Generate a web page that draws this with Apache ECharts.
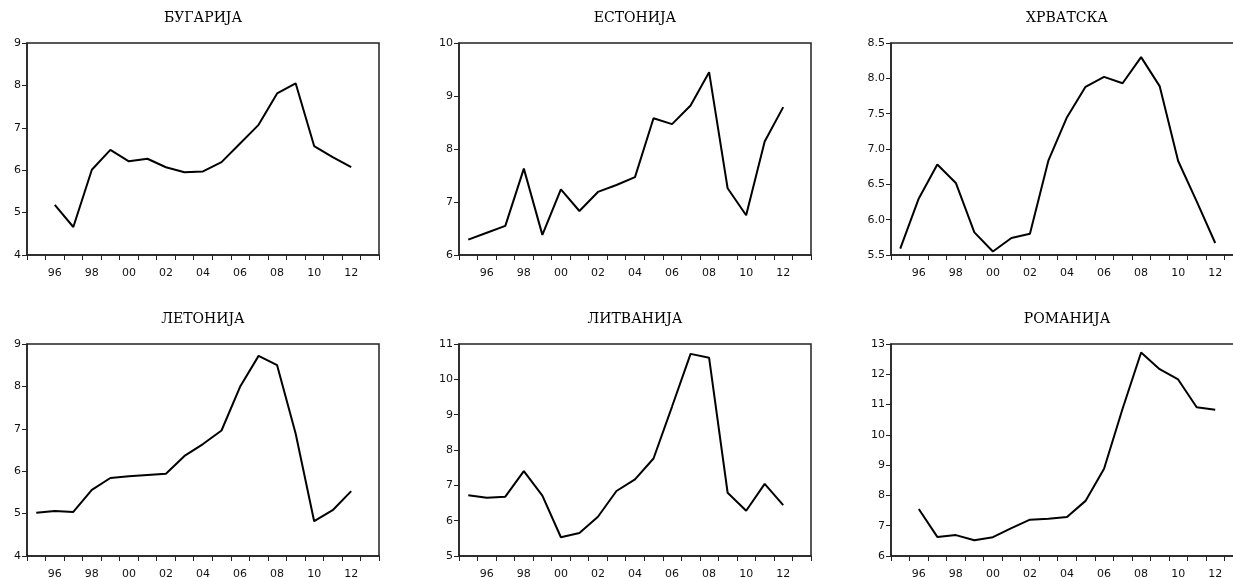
<!DOCTYPE html>
<html>
<head>
<meta charset="utf-8">
<script src="https://cdn.jsdelivr.net/npm/echarts@6/dist/echarts.min.js"></script>
<style>
html,body{margin:0;padding:0;background:#fff;overflow:hidden;}
#chart{width:1233px;height:578px;}
</style>
</head>
<body>
<div id="chart"></div>
<script>
const years = ['1995','1996','1997','1998','1999','2000','2001','2002','2003','2004','2005','2006','2007','2008','2009','2010','2011','2012','2013'];
const titles = ['БУГАРИЈА','ЕСТОНИЈА','ХРВАТСКА','ЛЕТОНИЈА','ЛИТВАНИЈА','РОМАНИЈА'];
const bulgaria  = [null,5.18,4.66,6.01,6.48,6.21,6.27,6.07,5.95,5.97,6.19,6.63,7.07,7.81,8.05,6.57,6.31,6.07,null];
const estonia   = [6.29,6.42,6.55,7.63,6.38,7.24,6.83,7.19,7.32,7.47,8.58,8.47,8.82,9.45,7.26,6.75,8.14,8.79,null];
const croatia   = [5.59,6.30,6.78,6.52,5.82,5.55,5.74,5.80,6.84,7.45,7.88,8.02,7.93,8.30,7.89,6.83,6.26,5.67,null];
const latvia    = [5.02,5.06,5.04,5.56,5.84,5.88,5.91,5.94,6.36,6.64,6.96,7.99,8.72,8.50,6.89,4.82,5.08,5.53,null];
const lithuania = [6.72,6.65,6.68,7.40,6.71,5.53,5.65,6.11,6.84,7.17,7.76,9.23,10.72,10.61,6.79,6.28,7.04,6.44,null];
const romania   = [null,7.55,6.63,6.69,6.52,6.62,6.92,7.20,7.23,7.29,7.82,8.88,10.86,12.72,12.17,11.83,10.91,10.83,null];
const seriesData = [bulgaria, estonia, croatia, latvia, lithuania, romania];
const yMin = [4, 6, 5.5, 4, 5, 6];
const yMax = [9, 10, 8.5, 9, 11, 13];
const yStep = [1, 1, 0.5, 1, 1, 1];
const yDecimals = [0, 0, 1, 0, 0, 0];

const colLeft = [27, 459, 891];
const rowTop = [43, 344];
const W = 352, H = 212;
const titleTop = [11, 312];

const grids = [], xAxes = [], yAxes = [], series = [], titleOpts = [];
for (let i = 0; i < 6; i++) {
  const c = i % 3, r = Math.floor(i / 3);
  grids.push({top: rowTop[r], height: H, left: colLeft[c], width: W,
    outerBoundsMode: 'none', containLabel: false,
    show: true, borderColor: '#222', borderWidth: 1.5, backgroundColor: 'transparent'});
  titleOpts.push({text: titles[i], left: colLeft[c] + W / 2, top: titleTop[r], textAlign: 'center', padding: 0,
    textStyle: {fontFamily: 'DejaVu Serif', fontSize: 14, fontWeight: 'normal', color: '#000'}});
  xAxes.push({type: 'category', gridIndex: i, data: years, boundaryGap: true,
    axisLine: {lineStyle: {color: '#222', width: 1.5}},
    axisTick: {show: true, interval: 0, length: 5, lineStyle: {color: '#222'}},
    axisLabel: {interval: 0, margin: 13, fontFamily: 'DejaVu Sans', fontSize: 11, color: '#111',
      formatter: v => (parseInt(v) % 2 === 0 ? v.slice(2) : '')},
    splitLine: {show: false}});
  const d = yDecimals[i];
  yAxes.push({type: 'value', gridIndex: i, min: yMin[i], max: yMax[i], interval: yStep[i],
    axisLine: {show: true, lineStyle: {color: '#222', width: 1.5}},
    axisTick: {show: true, length: 5, lineStyle: {color: '#222'}},
    axisLabel: {margin: 6, fontFamily: 'DejaVu Sans', fontSize: 11, color: '#111',
      formatter: v => v.toFixed(d)},
    splitLine: {show: false}});
  series.push({type: 'line', xAxisIndex: i, yAxisIndex: i, data: seriesData[i],
    symbol: 'none', connectNulls: false, animation: false,
    lineStyle: {color: '#000', width: 2}});
}

const chart = echarts.init(document.getElementById('chart'));
chart.setOption({
  animation: false,
  backgroundColor: '#fff',
  title: titleOpts,
  grid: grids,
  xAxis: xAxes,
  yAxis: yAxes,
  series: series
});
</script>
</body>
</html>
